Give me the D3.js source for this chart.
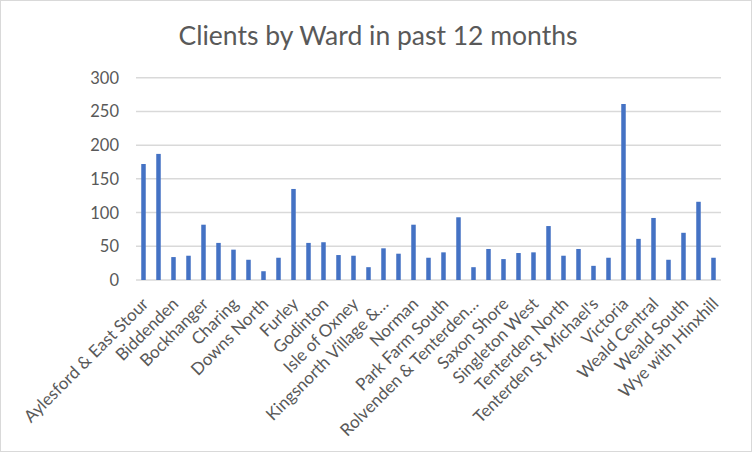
<!DOCTYPE html>
<html>
<head>
<meta charset="utf-8">
<script src="https://cdn.jsdelivr.net/npm/d3@7"></script>
<style>
  body { margin: 0; background: #fff; }
  text { font-family: Lato, "Open Sans", sans-serif; fill: #595959; }
</style>
</head>
<body>
<svg id="chart"></svg>
<script>
const wards = [
  'Aylesford & East Stour', 'Beaver', 'Biddenden', 'Bircholt', 'Bockhanger',
  'Bybrook', 'Charing', 'Conningbrook & Little Burton Farm', 'Downs North',
  'Downs West', 'Furley', 'Goat Lees', 'Godinton', 'Highfield', 'Isle of Oxney',
  'Kennington', 'Kingsnorth Village & Bridgefield',
  'Mersham, Sevington South with Court Lodge', 'Norman', 'Park Farm North',
  'Park Farm South', 'Repton', 'Rolvenden & Tenterden West', 'Roman',
  'Saxon Shore', 'Singleton East', 'Singleton West', 'Stanhope',
  'Tenterden North', 'Tenterden South', "Tenterden St Michael's", 'Upper Weald',
  'Victoria', 'Washford', 'Weald Central', 'Weald East', 'Weald South',
  'Willesborough', 'Wye with Hinxhill',
];
const clients = [
  172, 187, 34, 36, 82, 55, 45, 30, 13, 33,
  135, 55, 56, 37, 36, 19, 47, 39, 82, 33,
  41, 93, 19, 46, 31, 40, 41, 80, 36, 46,
  21, 33, 261, 61, 92, 30, 70, 116, 33,
];
const yTicks = [0, 50, 100, 150, 200, 250, 300];
// Excel cuts the long names short
const shortLabels = {
  'Kingsnorth Village & Bridgefield': 'Kingsnorth Village &\u2026',
  'Rolvenden & Tenterden West': 'Rolvenden & Tenterden\u2026',
};

const width = 752, height = 452;
const margin = { top: 77.7, right: 31, bottom: 172, left: 136 };

const svg = d3.select('#chart').attr('width', width).attr('height', height);

// outer chart border
svg.append('rect')
  .attr('x', 0.5).attr('y', 0.5)
  .attr('width', width - 1).attr('height', height - 1)
  .attr('fill', '#fff').attr('stroke', '#d9d9d9');

svg.append('text')
  .attr('x', 378).attr('y', 45)
  .attr('text-anchor', 'middle')
  .style('font-size', '26.5px')
  .text('Clients by Ward in past 12 months');

const x = d3.scaleBand()
  .domain(wards)
  .range([margin.left, width - margin.right])
  .paddingInner(0.7)
  .paddingOuter(0.35);

const y = d3.scaleLinear()
  .domain([0, 300])
  .range([height - margin.bottom, margin.top]);

// gridlines
svg.append('g')
  .selectAll('line')
  .data(yTicks)
  .join('line')
  .attr('x1', margin.left).attr('x2', width - margin.right)
  .attr('y1', (d) => y(d)).attr('y2', (d) => y(d))
  .attr('stroke', '#d9d9d9')
  .attr('stroke-width', 1.5);

// y tick labels
svg.append('g')
  .selectAll('text')
  .data(yTicks)
  .join('text')
  .attr('x', margin.left - 17)
  .attr('y', (d) => y(d))
  .attr('text-anchor', 'end')
  .attr('dominant-baseline', 'central')
  .style('font-size', '16.5px')
  .text((d) => d);

// bars
svg.append('g')
  .selectAll('rect')
  .data(wards)
  .join('rect')
  .attr('x', (d) => x(d))
  .attr('width', x.bandwidth())
  .attr('y', (d, i) => y(clients[i]))
  .attr('height', (d, i) => y(0) - y(clients[i]))
  .attr('fill', '#4472c4');

// x labels, only every other ward fits
svg.append('g')
  .selectAll('text')
  .data(wards.filter((d, i) => i % 2 === 0))
  .join('text')
  .attr('transform', (d) => {
    const cx = x(d) + x.bandwidth() / 2 + 6;
    return `translate(${cx},${y(0) + 25}) rotate(-45)`;
  })
  .attr('text-anchor', 'end')
  .style('font-size', '17px')
  .text((d) => shortLabels[d] || d);
</script>
</body>
</html>
